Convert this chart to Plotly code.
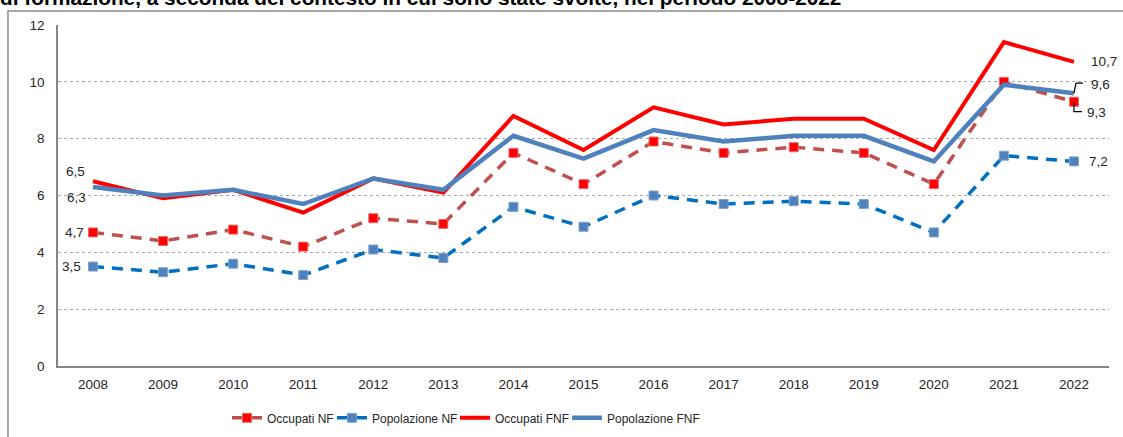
import plotly.graph_objects as go

years = ["2008", "2009", "2010", "2011", "2012", "2013", "2014", "2015",
         "2016", "2017", "2018", "2019", "2020", "2021", "2022"]
occupati_nf = [4.7, 4.4, 4.8, 4.2, 5.2, 5.0, 7.5, 6.4, 7.9, 7.5, 7.7, 7.5, 6.4, 10.0, 9.3]
popolazione_nf = [3.5, 3.3, 3.6, 3.2, 4.1, 3.8, 5.6, 4.9, 6.0, 5.7, 5.8, 5.7, 4.7, 7.4, 7.2]
occupati_fnf = [6.5, 5.9, 6.2, 5.4, 6.6, 6.1, 8.8, 7.6, 9.1, 8.5, 8.7, 8.7, 7.6, 11.4, 10.7]
popolazione_fnf = [6.3, 6.0, 6.2, 5.7, 6.6, 6.2, 8.1, 7.3, 8.3, 7.9, 8.1, 8.1, 7.2, 9.9, 9.6]
y_ticks = [0, 2, 4, 6, 8, 10, 12]
title_text = "di formazione, a seconda del contesto in cui sono state svolte, nel periodo 2008-2022"

FONT = "Liberation Sans, Arial, sans-serif"
TXT = "#262626"

fig = go.Figure()
fig.add_trace(go.Scatter(
    x=years, y=occupati_nf, name="Occupati NF", mode="lines+markers", legend="legend",
    line=dict(color="#C0504D", width=3.5, dash="11px,8px"),
    marker=dict(symbol="square", size=9, color="#FF0000", line=dict(color="#E46C6C", width=1)),
))
fig.add_trace(go.Scatter(
    x=years, y=popolazione_nf, name="Popolazione NF", mode="lines+markers", legend="legend2",
    line=dict(color="#0070C0", width=3.5, dash="11px,8px"),
    marker=dict(symbol="square", size=9, color="#4F81BD", line=dict(color="#7FA3D0", width=1)),
))
fig.add_trace(go.Scatter(
    x=years, y=occupati_fnf, name="Occupati FNF", mode="lines", legend="legend3",
    line=dict(color="#FF0000", width=4),
))
fig.add_trace(go.Scatter(
    x=years, y=popolazione_fnf, name="Popolazione FNF", mode="lines", legend="legend4",
    line=dict(color="#4F81BD", width=4.5),
))

def fmt(v):
    return f"{v:.1f}".replace(".", ",")

last_i = len(years) - 1

ann = []
# first-year labels (left of points)
first = [(occupati_fnf[0], -6, 10), (popolazione_fnf[0], -5, -11),
         (occupati_nf[0], -7, 0), (popolazione_nf[0], -10, 0)]
for v, xs, ys in first:
    ann.append(dict(x=0, y=v, xref="x", yref="y", text=fmt(v), showarrow=False,
                    xanchor="right", yanchor="middle", xshift=xs, yshift=ys,
                    font=dict(family=FONT, size=13.5, color=TXT)))
# last-year labels (right of points)
last = [(occupati_fnf[-1], 15, 0), (popolazione_fnf[-1], 15, 9),
        (occupati_nf[-1], 11, -11), (popolazione_nf[-1], 13, 0)]
for v, xs, ys in last:
    ann.append(dict(x=last_i, y=v, xref="x", yref="y", text=fmt(v), showarrow=False,
                    xanchor="left", yanchor="middle", xshift=xs, yshift=ys,
                    font=dict(family=FONT, size=13.5, color=TXT)))
# cut-off title at the top
ann.append(dict(x=-0.057, y=1.041, xref="paper", yref="paper", text="<b>" + title_text + "</b>",
                showarrow=False, xanchor="left", yanchor="bottom",
                font=dict(family=FONT, size=20.8, color="#000000")))

shapes = [
    # outer chart frame
    dict(type="rect", xref="paper", yref="paper", x0=-0.0476, x1=1.2, y0=-0.5, y1=1.041,
         line=dict(color="#8C8C8C", width=1.5), fillcolor="rgba(0,0,0,0)", layer="below"),
    # leader lines for the 2022 labels
    dict(type="path", xref="x", yref="y", xsizemode="pixel", ysizemode="pixel",
         xanchor=last_i, yanchor=popolazione_fnf[-1],
         path="M 0,0 L 2,10 L 9,10", line=dict(color="#000000", width=1.2)),
    dict(type="path", xref="x", yref="y", xsizemode="pixel", ysizemode="pixel",
         xanchor=last_i, yanchor=occupati_nf[-1],
         path="M 0,-1 L 0,-10 L 8,-10", line=dict(color="#000000", width=1.2)),
]

def leg(xp):
    return dict(orientation="h", x=xp, y=-0.152, xanchor="left", yanchor="middle",
                font=dict(family=FONT, size=12, color=TXT), itemwidth=30,
                bgcolor="rgba(0,0,0,0)")

fig.update_layout(
    width=1123, height=437,
    margin=dict(l=58, r=14, t=25, b=71, autoexpand=False),
    paper_bgcolor="white", plot_bgcolor="white",
    font=dict(family=FONT, size=13, color=TXT),
    showlegend=True,
    legend=leg(0.1608),
    legend2=leg(0.2607),
    legend3=leg(0.3777),
    legend4=leg(0.4843),
    annotations=ann,
    shapes=shapes,
    xaxis=dict(type="category", range=[-0.5, len(years) - 0.5], showgrid=False,
               showline=True, linecolor="#868686", linewidth=1.5, ticks="",
               automargin=False, ticklabelstandoff=5,
               tickfont=dict(family=FONT, size=13.5, color=TXT), fixedrange=True),
    yaxis=dict(range=[0, 12], tickvals=y_ticks, ticktext=[str(t) for t in y_ticks],
               showgrid=True, gridcolor="#A6A6A6", griddash="dot", gridwidth=1,
               showline=True, linecolor="#868686", linewidth=1.5, ticks="",
               zeroline=False, ticklabelstandoff=9, automargin=False,
               tickfont=dict(family=FONT, size=13.5, color=TXT), fixedrange=True),
)

fig.write_html("out.html", config={"displayModeBar": False},
               post_script="document.body.style.margin='0';")
